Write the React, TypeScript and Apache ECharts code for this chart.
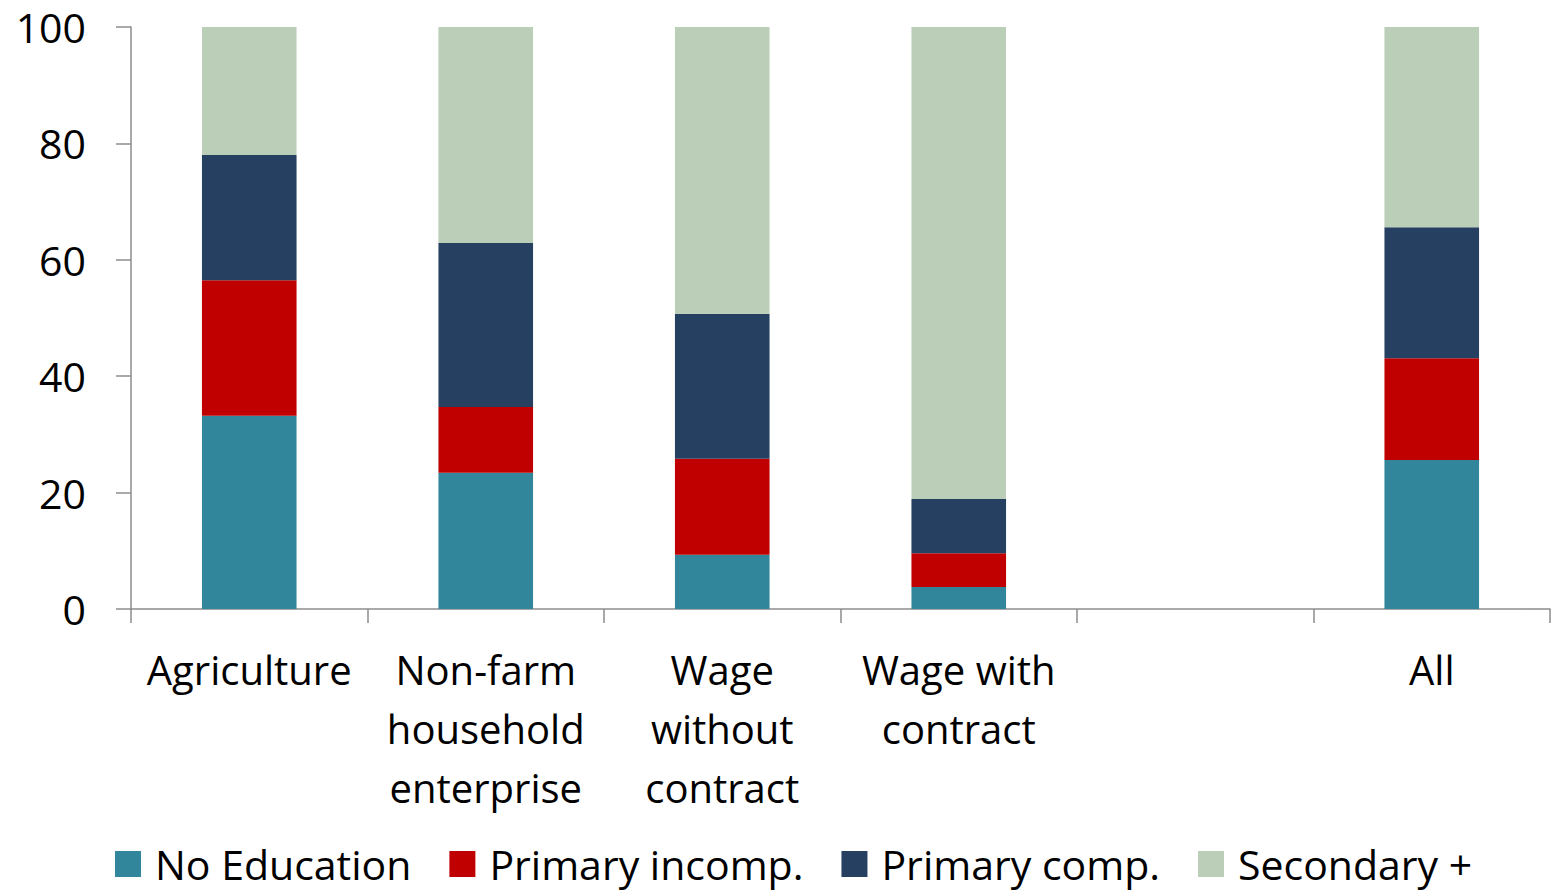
import React, { useEffect, useRef } from "react";
import * as echarts from "echarts";

const categories = [
  "Agriculture",
  "Non-farm\nhousehold\nenterprise",
  "Wage\nwithout\ncontract",
  "Wage with\ncontract",
  "",
  "All",
];
const noEducation = [33.2, 23.4, 9.3, 3.8, null, 25.6];
const primaryIncomp = [23.3, 11.3, 16.5, 5.8, null, 17.5];
const primaryComp = [21.5, 28.2, 24.9, 9.3, null, 22.5];
const secondaryPlus = [22.0, 37.1, 49.3, 81.1, null, 34.4];
const seriesNames = ["No Education", "Primary incomp.", "Primary comp.", "Secondary +"];
const colors = ["#31869B", "#C00000", "#254061", "#BBCEB8"];

const FONT = "'Open Sans', 'Noto Sans', sans-serif";

export default function App() {
  const ref = useRef<HTMLDivElement>(null);
  useEffect(() => {
    if (!ref.current) return;
    const chart = echarts.init(ref.current, undefined, { renderer: "svg" });
    const data = [noEducation, primaryIncomp, primaryComp, secondaryPlus];
    chart.setOption({
      animation: false,
      color: colors,
      textStyle: { fontFamily: FONT },
      grid: { left: 131, right: 2, top: 27, bottom: 284, containLabel: false },
      legend: {
        top: 836,
        left: 110,
        itemWidth: 26,
        itemHeight: 26,
        itemGap: 38,
        icon: "rect",
        textStyle: {
          fontSize: 41,
          lineHeight: 46,
          color: "#000",
          fontFamily: FONT,
          padding: [0, 0, 0, 9],
        },
        data: seriesNames,
      },
      xAxis: {
        type: "category",
        data: categories,
        axisLine: { lineStyle: { color: "#8c8c8c", width: 1.5 } },
        axisTick: { show: true, length: 14, alignWithLabel: false, lineStyle: { color: "#8c8c8c", width: 1.5 } },
        axisLabel: {
          interval: 0,
          fontSize: 40,
          color: "#000",
          lineHeight: 59,
          margin: 31,
          fontFamily: FONT,
        },
      },
      yAxis: {
        type: "value",
        min: 0,
        max: 100,
        interval: 20,
        splitLine: { show: false },
        axisLine: { show: true, lineStyle: { color: "#8c8c8c", width: 1.5 } },
        axisTick: { show: true, length: 15, lineStyle: { color: "#8c8c8c", width: 1.5 } },
        axisLabel: { fontSize: 41, color: "#000", margin: 45, fontFamily: FONT },
      },
      series: seriesNames.map((name, i) => ({
        name,
        type: "bar",
        stack: "total",
        barWidth: "40%",
        data: data[i],
        itemStyle: { color: colors[i] },
      })),
    });
    return () => chart.dispose();
  }, []);
  return (
    <div
      ref={ref}
      style={{ position: "absolute", left: 0, top: 0, width: 1552, height: 893 }}
    />
  );
}
